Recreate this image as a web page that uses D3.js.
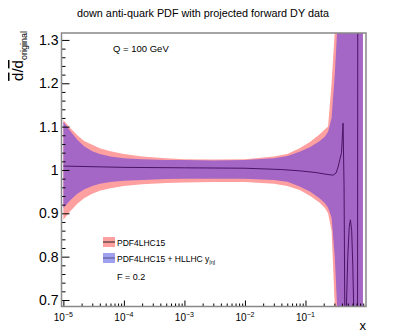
<!DOCTYPE html>
<html>
<head>
<meta charset="utf-8">
<script src="https://cdn.jsdelivr.net/npm/d3@7"></script>
<style>
  body { margin: 0; background: #fff; }
  text { font-family: "Liberation Sans", Arial, sans-serif; }
</style>
</head>
<body>
<script>
// band grid (x) and the two uncertainty bands
const xGrid = [1e-5, 1.3e-5, 1.7e-5, 2.2e-5, 3e-5, 4e-5, 6e-5, 1e-4, 2e-4, 5e-4, 1e-3, 3e-3, 1e-2, 3e-2, 5e-2, 8e-2, 0.12, 0.17, 0.21, 0.236, 0.27, 0.305, 0.333, 0.36, 0.5, 0.7, 0.89];
const redHigh = [1.115, 1.097, 1.08, 1.067, 1.058, 1.05, 1.043, 1.037, 1.031, 1.027, 1.025, 1.024, 1.025, 1.031, 1.037, 1.05, 1.065, 1.082, 1.094, 1.10, 1.2, 1.32, 1.6, 2.0, 2.5, 2.5, 2.5];
const redLow = [0.885, 0.905, 0.922, 0.935, 0.945, 0.952, 0.958, 0.963, 0.967, 0.97, 0.971, 0.972, 0.972, 0.968, 0.963, 0.954, 0.94, 0.925, 0.912, 0.90, 0.86, 0.685, 0.5, 0.3, 0.2, 0.2, 0.2];
const purpleHigh = [1.111, 1.09, 1.07, 1.055, 1.043, 1.037, 1.031, 1.027, 1.025, 1.023, 1.023, 1.022, 1.023, 1.027, 1.032, 1.042, 1.053, 1.066, 1.077, 1.088, 1.12, 1.22, 1.32, 1.6, 2.5, 2.5, 2.5];
const purpleLow = [0.912, 0.93, 0.945, 0.955, 0.963, 0.968, 0.972, 0.975, 0.977, 0.979, 0.98, 0.98, 0.98, 0.977, 0.973, 0.962, 0.95, 0.935, 0.923, 0.913, 0.89, 0.80, 0.685, 0.4, 0.2, 0.2, 0.2];

// central ratio of the HL-LHC fit
const lineX = [1e-5, 1e-4, 1e-3, 1e-2, 0.04, 0.08, 0.15, 0.22, 0.286, 0.32, 0.346, 0.394, 0.418, 0.434, 0.446, 0.455, 0.468, 0.475, 0.5, 0.53, 0.553, 0.58, 0.605, 0.625, 0.64, 0.722, 0.735, 0.76];
const lineY = [1.009, 1.006, 1.005, 1.004, 1.001, 0.998, 0.994, 0.99, 0.988, 0.993, 1.007, 1.04, 1.108, 0.962, 0.686, 0.3, 0.3, 0.686, 0.8, 0.87, 0.885, 0.86, 0.78, 0.686, 0.3, 0.3, 1.9, 2.2];

const yMajor = [0.7, 0.8, 0.9, 1.0, 1.1, 1.2, 1.3];
const xDecades = [1e-5, 1e-4, 1e-3, 1e-2, 1e-1];
const xLabels = ["\u22125", "\u22124", "\u22123", "\u22122", "\u22121"];
const legendNames = ["PDF4LHC15", "PDF4LHC15 + HLLHC y"];

const W = 407, H = 333;
const frame = {left: 61.5, right: 366, top: 33, bottom: 306.5};

const x = d3.scaleLog().domain([Math.pow(10, -5.031), 1]).range([frame.left, frame.right]);
const y = d3.scaleLinear().domain([0.685, 1.316]).range([frame.bottom, frame.top]);

const svg = d3.select("body").append("svg").attr("width", W).attr("height", H);

svg.append("clipPath").attr("id", "clip").append("rect")
  .attr("x", frame.left).attr("y", frame.top)
  .attr("width", frame.right - frame.left).attr("height", frame.bottom - frame.top);

const plot = svg.append("g").attr("clip-path", "url(#clip)");

const idx = d3.range(xGrid.length);
const band = (lo, hi) => d3.area()
  .x((i) => x(xGrid[i]))
  .y0((i) => y(lo[i]))
  .y1((i) => y(hi[i]));

plot.append("path").datum(idx).attr("d", band(redLow, redHigh)).attr("fill", "#ffa0a0");
plot.append("path").datum(idx).attr("d", band(purpleLow, purpleHigh)).attr("fill", "#a467c6");

plot.append("path").datum(d3.range(lineX.length))
  .attr("d", d3.line().x((i) => x(lineX[i])).y((i) => y(lineY[i])))
  .attr("fill", "none").attr("stroke", "#4a1466").attr("stroke-width", 1);

// axes
const yMinor = d3.range(0.70, 1.3001, 0.02).map((v) => +v.toFixed(2)).filter((v) => !yMajor.some((m) => Math.abs(m - v) < 1e-6));
svg.append("g").attr("transform", `translate(${frame.left},0)`)
  .call(d3.axisLeft(y).tickValues(yMinor).tickSize(-4).tickFormat(""))
  .call((g) => g.select(".domain").remove());
svg.append("g").attr("transform", `translate(${frame.left},0)`)
  .call(d3.axisLeft(y).tickValues(yMajor).tickSize(-8).tickPadding(3).tickFormat((d) => d3.format("")(+d.toFixed(1))))
  .call((g) => g.select(".domain").remove())
  .call((g) => g.selectAll("text").attr("font-size", 14).attr("font-family", "Liberation Sans, Arial, sans-serif").attr("fill", "#000"));

const xMinor = [];
for (let e = -6; e < 0; e++) for (let k = 2; k <= 9; k++) {
  const v = k * Math.pow(10, e);
  if (v >= x.domain()[0] && v <= 1) xMinor.push(v);
}
svg.append("g").attr("transform", `translate(0,${frame.bottom})`)
  .call(d3.axisBottom(x).tickValues(xMinor).tickSize(-3).tickFormat(""))
  .call((g) => g.select(".domain").remove());
svg.append("g").attr("transform", `translate(0,${frame.bottom})`)
  .call(d3.axisBottom(x).tickValues(xDecades).tickSize(-6).tickFormat(""))
  .call((g) => g.select(".domain").remove());

const xl = svg.append("g").selectAll("text").data(xDecades).enter().append("text")
  .attr("x", (d) => x(d)).attr("y", 321)
  .attr("text-anchor", "middle").attr("font-size", 10);
xl.append("tspan").text("10");
xl.append("tspan").attr("dy", -4.5).attr("font-size", 7).text((d, i) => xLabels[i]);

// frame
svg.append("rect")
  .attr("x", frame.left).attr("y", frame.top)
  .attr("width", frame.right - frame.left).attr("height", frame.bottom - frame.top)
  .attr("fill", "none").attr("stroke", "#888").attr("stroke-width", 1.5);

// titles
svg.append("text").attr("x", 203).attr("y", 17).attr("text-anchor", "middle")
  .attr("font-size", 10.8).text("down anti-quark PDF with projected forward DY data");

svg.append("text").attr("x", 366).attr("y", 330).attr("text-anchor", "end")
  .attr("font-size", 13).text("x");

const yt = svg.append("text").attr("transform", "translate(23,31) rotate(-90)")
  .attr("text-anchor", "end").attr("font-size", 15);
yt.append("tspan").style("text-decoration", "overline").text("d");
yt.append("tspan").text("/");
yt.append("tspan").style("text-decoration", "overline").text("d");
yt.append("tspan").attr("dy", 3.5).attr("font-size", 9).text("original");

svg.append("text").attr("x", 113).attr("y", 52).attr("font-size", 9.5).text("Q = 100 GeV");

// legend
const legFill = ["#ffa0a0", "#a0a0f0"];
const legLine = ["#222", "#505080"];
const leg = svg.append("g").selectAll("g").data(legendNames).enter().append("g")
  .attr("transform", (d, i) => `translate(103,${237 + i * 16})`);
leg.append("rect").attr("width", 12).attr("height", 10).attr("fill", (d, i) => legFill[i]);
leg.append("line").attr("x1", 0).attr("x2", 12).attr("y1", 5).attr("y2", 5)
  .attr("stroke", (d, i) => legLine[i]).attr("stroke-width", 1);
const lt = leg.append("text").attr("x", 14).attr("y", 8.5).attr("font-size", 8.5);
lt.append("tspan").text((d) => d);
lt.filter((d, i) => i === 1).append("tspan").attr("dy", 2.5).attr("font-size", 5.5).text("|\u03b7|");

svg.append("text").attr("x", 117).attr("y", 280).attr("font-size", 9).text("F = 0.2");
</script>
</body>
</html>
